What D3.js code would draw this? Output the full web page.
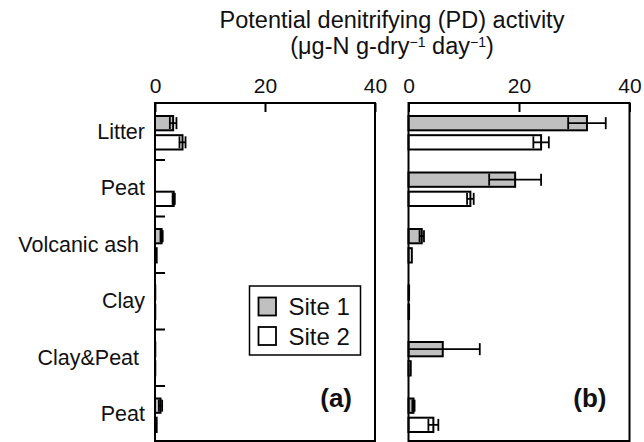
<!DOCTYPE html>
<html>
<head>
<meta charset="utf-8">
<script src="https://cdn.jsdelivr.net/npm/d3@7"></script>
<style>
  body { margin: 0; background: #fff; }
  text { font-family: "Liberation Sans", Arial, sans-serif; fill: #111; }
</style>
</head>
<body>
<script>
const width = 644, height = 442;

// data
const categories = ['Litter', 'Peat', 'Volcanic ash\u00a0', 'Clay', 'Clay&Peat\u00a0', 'Peat'];
const series = ['Site 1', 'Site 2'];
const xTicks = [0, 20, 40];
// panel (a)
const aSite1 = [3.3, 0.0, 1.2, 0.05, 0.05, 1.0];
const aSite1Err = [0.6, 0, 0.2, 0, 0, 0.3];
const aSite2 = [5.0, 3.4, 0.3, 0.05, 0.05, 0.3];
const aSite2Err = [0.55, 0.2, 0, 0, 0, 0];
// panel (b)
const bSite1 = [32.3, 19.3, 2.4, 0.1, 6.2, 0.9];
const bSite1Err = [3.4, 4.7, 0.4, 0, 6.7, 0.2];
const bSite2 = [24.0, 11.2, 0.6, 0.1, 0.4, 4.5];
const bSite2Err = [1.4, 0.6, 0, 0, 0, 0.9];

const fills = ['#c0c0c0', '#ffffff'];
const plotTop = 103, plotBottom = 442;

const svg = d3.select('body').append('svg')
    .attr('width', width).attr('height', height);

// title
const title = svg.append('text')
    .attr('text-anchor', 'middle')
    .attr('font-size', 23.5);
title.append('tspan').attr('x', 392).attr('y', 28).text('Potential denitrifying (PD) activity');
const t2 = title.append('tspan').attr('x', 392).attr('y', 54);
t2.append('tspan').text('(\u03bcg-N g-dry');
t2.append('tspan').attr('font-size', 14).attr('dy', -7.5).text('\u22121');
t2.append('tspan').attr('dy', 7.5).text(' day');
t2.append('tspan').attr('font-size', 14).attr('dy', -7.5).text('\u22121');
t2.append('tspan').attr('dy', 7.5).text(')');

const y = d3.scaleBand().domain(d3.range(categories.length)).range([plotTop, plotBottom]);
const ySub = d3.scaleBand().domain(series).range([12, 47.5]).paddingInner(0.15);
const yIdx = d3.scaleLinear().domain([0, categories.length]).range([plotTop, plotBottom]);

// category labels
svg.append('g').selectAll('text')
    .data(categories)
    .enter().append('text')
    .attr('x', 145)
    .attr('y', (d, i) => y(i) + y.bandwidth() / 2)
    .attr('dy', '0.36em')
    .attr('text-anchor', 'end')
    .attr('font-size', 21.5)
    .text(d => d);

function panel(x0, x1, s1, e1, s2, e2, tag, leftTicks) {
    const x = d3.scaleLinear().domain([0, 40]).range([x0, x1]);
    const g = svg.append('g');

    const rows = [];
    categories.forEach((c, i) => {
        rows.push({ i, s: 0, v: s1[i], e: e1[i] });
        rows.push({ i, s: 1, v: s2[i], e: e2[i] });
    });

    // bars
    g.selectAll('rect.bar')
        .data(rows)
        .enter().append('rect')
        .attr('class', 'bar')
        .attr('x', x(0))
        .attr('y', d => y(d.i) + ySub(series[d.s]) + 1)
        .attr('width', d => x(d.v) - x(0))
        .attr('height', ySub.bandwidth() - 2)
        .attr('fill', d => fills[d.s])
        .attr('stroke', '#000')
        .attr('stroke-width', 2);

    // error bars (lower end clipped at zero)
    const lo = d => x(Math.max(0, d.v - d.e));
    const hi = d => x(d.v + d.e);
    const eg = g.selectAll('g.err')
        .data(rows.filter(d => d.e > 0))
        .enter().append('g')
        .attr('class', 'err')
        .attr('stroke', '#000')
        .attr('stroke-width', 1.8);
    const cy = d => y(d.i) + ySub(series[d.s]) + ySub.bandwidth() / 2;
    eg.append('line')
        .attr('x1', lo).attr('x2', hi)
        .attr('y1', cy).attr('y2', cy);
    eg.append('line')
        .attr('x1', hi).attr('x2', hi)
        .attr('y1', d => cy(d) - 6).attr('y2', d => cy(d) + 6);
    eg.filter(d => d.v - d.e > 0).append('line')
        .attr('x1', lo).attr('x2', lo)
        .attr('y1', d => cy(d) - 6).attr('y2', d => cy(d) + 6);

    // frame
    g.append('rect')
        .attr('x', x0).attr('y', plotTop)
        .attr('width', x1 - x0).attr('height', plotBottom - plotTop - 1)
        .attr('fill', 'none')
        .attr('stroke', '#000')
        .attr('stroke-width', 2);

    // top axis
    const ax = g.append('g')
        .attr('transform', `translate(0,${plotTop})`)
        .call(d3.axisTop(x).tickValues(xTicks).tickSize(-9).tickPadding(10));
    ax.select('.domain').remove();
    ax.selectAll('line').attr('stroke-width', 2);
    ax.selectAll('text').attr('font-size', 21).attr('fill', '#111')
        .attr('font-family', '"Liberation Sans", Arial, sans-serif');

    if (leftTicks) {
        const ly = g.append('g')
            .attr('transform', `translate(${x0},0)`)
            .call(d3.axisLeft(yIdx).tickValues(d3.range(1, categories.length)).tickSize(-10).tickFormat(''));
        ly.select('.domain').remove();
        ly.selectAll('line').attr('stroke-width', 2);
    }

    g.append('text')
        .attr('x', x1 - 23)
        .attr('y', 407)
        .attr('text-anchor', 'end')
        .attr('font-size', 26)
        .attr('font-weight', 'bold')
        .text(tag);
}

panel(155, 375, aSite1, aSite1Err, aSite2, aSite2Err, '(a)', true);
panel(408.5, 629.5, bSite1, bSite1Err, bSite2, bSite2Err, '(b)', false);

// legend
const legend = svg.append('g').attr('transform', 'translate(249.5,286)');
legend.append('rect')
    .attr('width', 111).attr('height', 69)
    .attr('fill', '#fff').attr('stroke', '#000').attr('stroke-width', 1.5);
const li = legend.selectAll('g.item')
    .data(series)
    .enter().append('g')
    .attr('class', 'item')
    .attr('transform', (d, i) => `translate(9,${11.5 + i * 29.5})`);
li.append('rect')
    .attr('width', 17.5).attr('height', 18)
    .attr('fill', (d, i) => fills[i])
    .attr('stroke', '#000').attr('stroke-width', 1.8);
li.append('text')
    .attr('x', 30).attr('y', 17.5)
    .attr('font-size', 24)
    .text(d => d);
</script>
</body>
</html>
